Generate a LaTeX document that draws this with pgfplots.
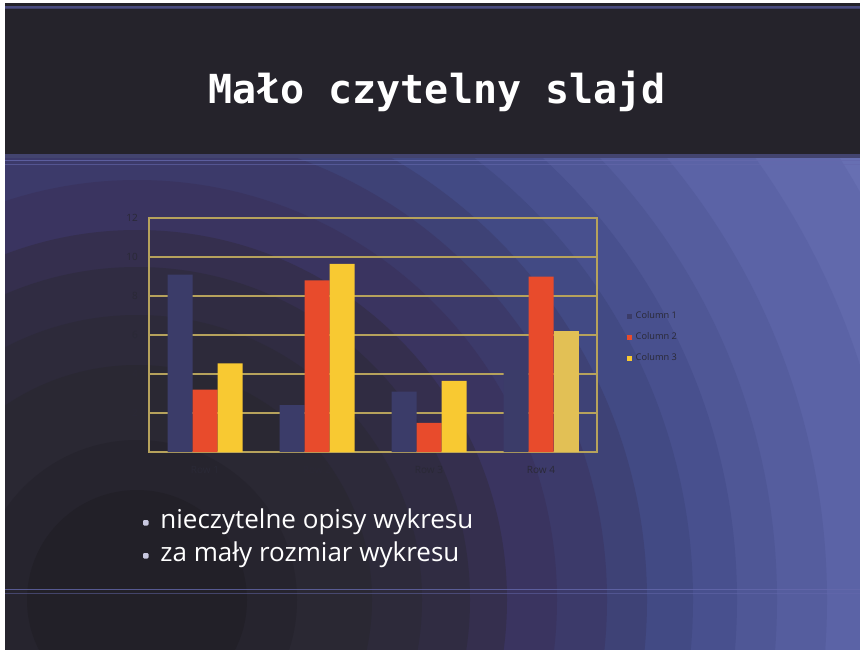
\documentclass[border=0pt]{standalone}
\usepackage{pgfplots}
\pgfplotsset{compat=1.18}
\usepackage{fontspec}
\setmainfont{Open Sans}
\newfontfamily\titlefont{DejaVu Sans Mono}

% slide palette
\definecolor{headdark}{HTML}{25232B}
\definecolor{ringout}{HTML}{676FB2}
\definecolor{gold}{HTML}{B6A25C}
\definecolor{labelgray}{HTML}{2A2936}
\definecolor{colA}{HTML}{3B3C69}
\definecolor{colB}{HTML}{E84B2C}
\definecolor{colC}{HTML}{F8C932}
\definecolor{colCfade}{HTML}{E2C055}
\definecolor{bulletc}{HTML}{C8C8E0}
\definecolor{lineA}{HTML}{4A4C80}
\definecolor{lineB}{HTML}{6468AC}

% chart data
\pgfplotstableread{
x c1 c2 c3
0 9.1 3.2 4.55
1 2.4 8.8 9.65
2 3.1 1.5 3.65
3 4.2 9.0 6.2
}\chartdata

\begin{document}
\begin{tikzpicture}
% ---------- slide background (coordinates in px) ----------
\begin{scope}[x=0.5pt,y=-0.5pt]
  \useasboundingbox (0,0) rectangle (860,649);
  \clip (0,0) rectangle (860,649);
  \fill[ringout] (-10,-10) rectangle (870,660);
  \foreach \r/\c in {830/6169AC,760/5B63A6,690/555D9E,640/4F5796,600/48508E,
                     556/424A84,510/3E4276,470/3C3A6A,420/3A3460,370/352F4E,
                     333/302C42,285/2D2A3A,235/2A2833,160/26242E,110/222028}{
    \definecolor{ringc}{HTML}{\c}
    \fill[ringc] (137,600) circle[radius=\r*0.5pt];
  }
  % title band
  \fill[headdark] (-10,-10) rectangle (870,154);
  \fill[lineA] (-10,5.5) rectangle (870,7.5);
  \fill[lineA!70!headdark] (-10,8) rectangle (870,9);
  \fill[lineA!80!headdark] (-10,154) rectangle (870,158);
  \fill[lineB, opacity=0.8] (-10,160) rectangle (870,161);
  \fill[lineB, opacity=0.6] (-10,164) rectangle (870,165);
  % lower rule
  \fill[lineB, opacity=0.8] (-10,589) rectangle (870,590);
  \fill[lineB, opacity=0.5] (-10,593) rectangle (870,594);
  % paper margins
  \fill[white] (-10,-10) rectangle (870,3);
  \fill[white] (-10,-10) rectangle (5,660);
  % title
  \node[anchor=base, text=white, inner sep=0pt,
        font=\titlefont\bfseries\fontsize{20}{24}\selectfont] at (437,103) {Mało czytelny slajd};
  % bullet list
  \fill[bulletc, rounded corners=0.6pt] (143,520) rectangle (148.5,525.5);
  \fill[bulletc, rounded corners=0.6pt] (143,553) rectangle (148.5,558.5);
  \node[anchor=base west, text=white, inner sep=0pt,
        font=\fontsize{13}{16}\selectfont] at (160,528) {nieczytelne opisy wykresu};
  \node[anchor=base west, text=white, inner sep=0pt,
        font=\fontsize{13}{16}\selectfont] at (160,561) {za mały rozmiar wykresu};
\end{scope}

% ---------- bar chart ----------
\begin{axis}[
  at={(74.5pt,-226pt)}, anchor=south west,
  scale only axis, width=224pt, height=117pt,
  xmin=-0.5, xmax=3.5, ymin=0, ymax=12,
  ybar, bar width=12.5pt,
  xtick={0,1,2,3}, xticklabels={Row 1,Row 2,Row 3,Row 4},
  ytick={2,4,...,12},
  major tick length=0pt,
  ymajorgrids,
  grid style={draw=gold, line width=0.55pt},
  axis line style={draw=gold, line width=0.7pt},
  /pgf/number format/assume math mode=true,
  tick label style={font=\fontsize{5}{6}\selectfont, text=labelgray},
  yticklabel style={xshift=-2pt},
  xticklabel style={yshift=-3.5pt},
  legend style={at={(1.065,0.49)}, anchor=west, draw=none, fill=none,
                font=\fontsize{4.6}{5.5}\selectfont, text=labelgray,
                row sep=1.6pt, inner sep=0pt},
  legend cell align=left,
  legend image code/.code={\fill[#1] (0pt,-1.3pt) rectangle (2.6pt,1.3pt);},
]
\addplot[fill=colA, draw=none, bar shift=-12.5pt] table[x=x, y=c1] {\chartdata};
\addlegendentry{Column 1}
\addplot[fill=colB, draw=none, bar shift=0pt] table[x=x, y=c2] {\chartdata};
\addlegendentry{Column 2}
\addplot[fill=colC, draw=none, bar shift=12.5pt] coordinates {(0,4.55) (1,9.65) (2,3.65)};
\addlegendentry{Column 3}
\addplot[fill=colCfade, draw=none, bar shift=12.5pt, forget plot] coordinates {(3,6.2)};
\end{axis}
\end{tikzpicture}
\end{document}
